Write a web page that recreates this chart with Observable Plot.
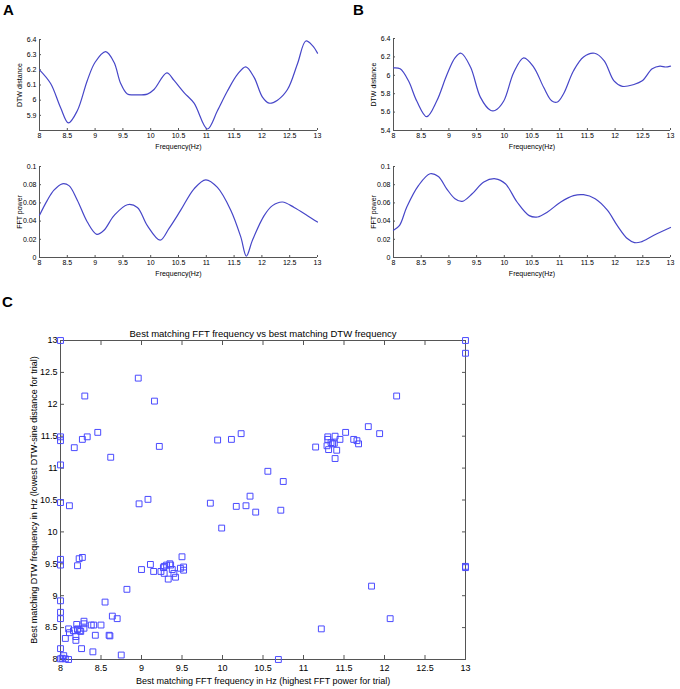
<!DOCTYPE html>
<html><head><meta charset="utf-8">
<script src="https://cdn.jsdelivr.net/npm/d3@7"></script>
<script src="https://cdn.jsdelivr.net/npm/@observablehq/plot@0.6"></script>
<style>
body{margin:0;background:#fff;font-family:"Liberation Sans",Arial,sans-serif;}
#fig{position:relative;width:680px;height:689px;overflow:hidden;}
.panel{position:absolute;}
.lab{position:absolute;font-weight:bold;font-size:15px;line-height:1;}
</style></head><body><div id="fig"></div>
<script>
// ---- Data ----
const freqTicks = [8, 8.5, 9, 9.5, 10, 10.5, 11, 11.5, 12, 12.5, 13];

// Panel A – DTW distance
const aDtwFreq = [8.0, 8.2, 8.38, 8.52, 8.68, 8.86, 9.0, 9.19, 9.34, 9.46, 9.58, 9.7, 9.94, 10.06, 10.29, 10.42, 10.6, 10.78, 11.02, 11.2, 11.38, 11.56, 11.71, 11.86, 12.01, 12.13, 12.28, 12.46, 12.64, 12.79, 12.91, 13.0];
const aDtwVal  = [6.20, 6.11, 5.95, 5.85, 5.93, 6.13, 6.25, 6.32, 6.25, 6.11, 6.04, 6.035, 6.04, 6.07, 6.18, 6.13, 6.05, 5.98, 5.81, 5.93, 6.06, 6.17, 6.22, 6.15, 6.02, 5.98, 6.0, 6.07, 6.24, 6.39, 6.36, 6.31];
const aDtwTicks = [5.9, 6, 6.1, 6.2, 6.3, 6.4];

// Panel A – FFT power
const aFftFreq = [8.0, 8.14, 8.26, 8.41, 8.53, 8.68, 8.86, 9.03, 9.16, 9.34, 9.58, 9.76, 9.94, 10.17, 10.33, 10.54, 10.78, 10.99, 11.2, 11.44, 11.62, 11.72, 11.83, 12.04, 12.19, 12.37, 12.58, 12.82, 13.0];
const aFftVal  = [0.0464, 0.0628, 0.074, 0.081, 0.079, 0.063, 0.039, 0.0255, 0.030, 0.046, 0.058, 0.055, 0.035, 0.019, 0.032, 0.052, 0.0755, 0.0854, 0.077, 0.052, 0.0226, 0.0015, 0.019, 0.046, 0.057, 0.061, 0.055, 0.046, 0.039];
const fftTicks = [0, 0.02, 0.04, 0.06, 0.08, 0.1];

// Panel B – DTW distance
const bDtwFreq = [8.0, 8.12, 8.27, 8.42, 8.6, 8.78, 8.96, 9.11, 9.22, 9.39, 9.57, 9.75, 9.84, 9.99, 10.17, 10.35, 10.53, 10.71, 10.86, 10.96, 11.07, 11.25, 11.43, 11.63, 11.8, 11.98, 12.13, 12.34, 12.49, 12.67, 12.81, 12.91, 13.0];
const bDtwVal  = [6.08, 6.07, 5.94, 5.72, 5.55, 5.72, 6.0, 6.19, 6.24, 6.09, 5.76, 5.62, 5.62, 5.72, 6.03, 6.19, 6.09, 5.87, 5.72, 5.71, 5.80, 6.05, 6.2, 6.24, 6.16, 5.94, 5.88, 5.9, 5.94, 6.07, 6.1, 6.09, 6.1];
const bDtwTicks = [5.4, 5.6, 5.8, 6, 6.2, 6.4];

// Panel B – FFT power
const bFftFreq = [8.0, 8.11, 8.24, 8.45, 8.66, 8.81, 8.96, 9.11, 9.24, 9.42, 9.63, 9.84, 10.02, 10.23, 10.45, 10.6, 10.78, 11.02, 11.25, 11.43, 11.64, 11.86, 12.04, 12.22, 12.35, 12.46, 12.7, 13.0];
const bFftVal  = [0.030, 0.0354, 0.0555, 0.079, 0.092, 0.089, 0.0755, 0.0646, 0.0617, 0.070, 0.083, 0.0865, 0.081, 0.061, 0.046, 0.0445, 0.050, 0.061, 0.068, 0.069, 0.0646, 0.052, 0.035, 0.0208, 0.0164, 0.017, 0.0245, 0.033];

// Panel C – scatter
const cFft = [8,8,8,8,8,8,8,8,8,8,8,8, 8.04,8.06,8.1,8.02,
  8.96,8.30,9.16,8.46,8.33,8.27,8.17,9.22,8.62,
  9.94,10.11,10.23,
  10.56,10.75,10.34,9.85,10.17,10.29,10.41,10.72,9.99,
  8.97,9.08,8.11,
  11.15,11.30,11.30,11.29,11.31,11.34,11.36,11.38,11.39,11.41,11.39,11.45,11.52,11.62,11.66,11.68,11.80,11.94,12.15,
  13,13,13,13,
  11.84,12.07,11.22,10.69,
  9.0,9.11,9.15,9.24,9.27,9.28,9.31,9.35,9.33,9.38,9.40,9.42,9.50,9.48,9.52,9.52,9.28,9.36,
  8.82,8.55,
  8.23,8.27,8.21,
  8.64,8.70,8.29,8.29,8.20,8.38,8.41,8.50,8.29,8.10,8.21,8.16,8.24,8.11,8.19,8.19,8.06,8.43,8.60,8.61,8.26,8.40,8.75,8.21,8.25];
const cDtw = [13.0,11.49,11.43,11.05,10.46,9.57,9.48,8.92,8.74,8.64,8.17,8.01, 8.06,8.01,8.0,8.02,
  12.41,12.13,12.05,11.56,11.49,11.45,11.32,11.34,11.17,
  11.44,11.45,11.54,
  10.95,10.79,10.56,10.45,10.40,10.41,10.31,10.34,10.06,
  10.44,10.51,10.41,
  11.33,11.49,11.45,11.35,11.29,11.40,11.38,11.39,11.50,11.28,11.15,11.45,11.56,11.45,11.43,11.38,11.65,11.54,12.13,
  13,12.80,9.46,9.44,
  9.15,8.64,8.48,8.0,
  9.41,9.49,9.38,9.38,9.44,9.35,9.48,9.50,9.26,9.41,9.35,9.29,9.61,9.43,9.45,9.40,9.46,9.48,
  9.10,8.90,
  9.58,9.60,9.47,
  8.68,8.64,8.60,8.56,8.55,8.54,8.54,8.54,8.49,8.48,8.48,8.45,8.45,8.42,8.36,8.30,8.33,8.38,8.38,8.37,8.17,8.12,8.07,8.47,8.44];
const cTicks = [8, 8.5, 9, 9.5, 10, 10.5, 11, 11.5, 12, 12.5, 13];
const cTitle = ["Best matching FFT frequency vs best matching DTW frequency"];
const cXLabel = "Best matching FFT frequency in Hz (highest FFT power for trial)";
const cYLabel = "Best matching DTW frequency in Hz (lowest DTW-sine distance for trial)";

// ---- Drawing ----
const fig = document.getElementById("fig");
const FONT = "'Liberation Sans', Arial, sans-serif";
const AX = "#555";
const fmt = d => String(+(+d).toFixed(3));

function place(el, left, top) {
  const d = document.createElement("div");
  d.className = "panel"; d.style.left = left + "px"; d.style.top = top + "px";
  d.appendChild(el); fig.appendChild(d);
}
function letter(t, left, top) {
  const d = document.createElement("div");
  d.className = "lab"; d.textContent = t; d.style.left = left + "px"; d.style.top = top + "px";
  fig.appendChild(d);
}

function linePanel(o) {
  const data = o.xs.map((x, i) => ({x, y: o.ys[i]}));
  return Plot.plot({
    width: o.width, height: o.height,
    marginLeft: o.mL, marginRight: o.mR, marginTop: o.mT, marginBottom: o.mB,
    style: {fontFamily: FONT, fontSize: "7px", color: "#000", background: "transparent", overflow: "visible"},
    x: {domain: [8, 13]},
    y: {domain: o.yDomain},
    marks: [
      Plot.axisX({ticks: freqTicks, tickFormat: fmt, tickSize: -2, tickPadding: 5, stroke: AX, fill: "#000",
        label: "Frequency(Hz)", labelAnchor: "center", labelOffset: 18, labelArrow: "none"}),
      Plot.axisY({ticks: o.yTicks, tickFormat: fmt, tickSize: -2, tickPadding: 5, stroke: AX, fill: "#000",
        label: o.yLabel, labelAnchor: "center", labelOffset: o.yLabelOffset, labelArrow: "none"}),
      Plot.ruleY([o.yDomain[0]], {stroke: AX}),
      Plot.ruleX([8], {stroke: AX}),
      Plot.line(data, {x: "x", y: "y", curve: "catmull-rom", stroke: "#4646c8", strokeWidth: 1.2})
    ]
  });
}

place(linePanel({xs: aDtwFreq, ys: aDtwVal, yDomain: [5.8, 6.4], yTicks: aDtwTicks, yLabel: "DTW distance",
  yLabelOffset: 22, width: 340, height: 150, mL: 39, mR: 23, mT: 39, mB: 20}), 0, 0);
place(linePanel({xs: aFftFreq, ys: aFftVal, yDomain: [0, 0.1], yTicks: fftTicks, yLabel: "FFT power",
  yLabelOffset: 22, width: 340, height: 130, mL: 39, mR: 23, mT: 16, mB: 23}), 0, 150);
place(linePanel({xs: bDtwFreq, ys: bDtwVal, yDomain: [5.4, 6.4], yTicks: bDtwTicks, yLabel: "DTW distance",
  yLabelOffset: 22, width: 340, height: 150, mL: 53, mR: 10, mT: 38, mB: 20}), 340, 0);
place(linePanel({xs: bFftFreq, ys: bFftVal, yDomain: [0, 0.1], yTicks: fftTicks, yLabel: "FFT power",
  yLabelOffset: 22, width: 340, height: 130, mL: 53, mR: 10, mT: 16, mB: 23}), 340, 150);

const scatter = cFft.map((x, i) => ({x, y: cDtw[i]}));
place(Plot.plot({
  width: 480, height: 399,
  marginLeft: 60, marginRight: 15, marginTop: 50, marginBottom: 30,
  style: {fontFamily: FONT, fontSize: "9px", color: "#000", background: "transparent", overflow: "visible"},
  x: {domain: [8, 13]},
  y: {domain: [8, 13]},
  marks: [
    Plot.frame({stroke: AX}),
    Plot.axisX({ticks: cTicks, tickFormat: fmt, tickSize: -4, tickPadding: 9, stroke: AX, fill: "#000",
      label: cXLabel, labelAnchor: "center", labelOffset: 24, labelArrow: "none"}),
    Plot.axisX({anchor: "top", ticks: cTicks, tickFormat: () => "", tickSize: -4, stroke: AX, label: null}),
    Plot.axisY({ticks: cTicks, tickFormat: fmt, tickSize: -4, tickPadding: 7, stroke: AX, fill: "#000",
      label: cYLabel, labelAnchor: "center", labelOffset: 30, labelArrow: "none"}),
    Plot.axisY({anchor: "right", ticks: cTicks, tickFormat: () => "", tickSize: -4, stroke: AX, label: null}),
    Plot.text(cTitle, {frameAnchor: "top", dy: -10, fontSize: 9.5, fill: "#000"}),
    Plot.dot(scatter, {x: "x", y: "y", symbol: "square", r: 3.3, stroke: "#4a4aff", fill: "none", strokeWidth: 1})
  ]
}), 0, 290);

letter("A", 3, 2);
letter("B", 353, 2);
letter("C", 2, 294);
</script></body></html>
